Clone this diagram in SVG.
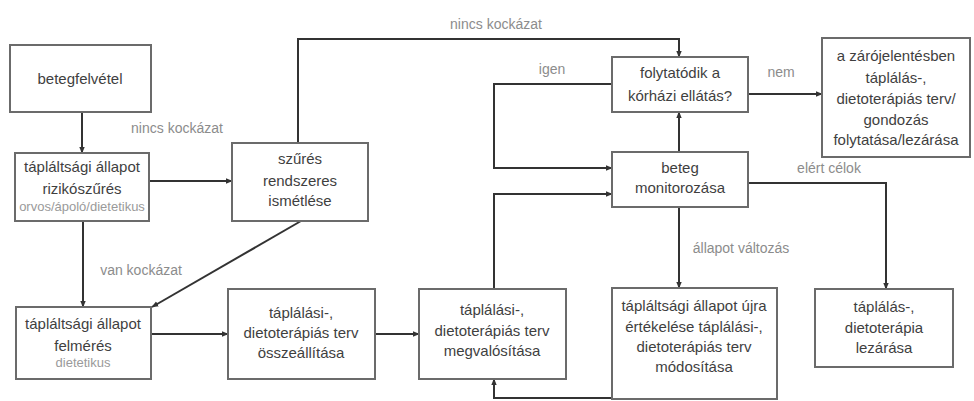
<svg xmlns="http://www.w3.org/2000/svg" width="974" height="401" viewBox="0 0 974 401">
  <style>
    .box { fill: #ffffff; stroke: #6b6b6b; stroke-width: 2; }
    .t { font-family: "Liberation Sans", Arial, sans-serif; font-size: 15px; fill: #3f3f3f; text-anchor: middle; }
    .sub { font-family: "Liberation Sans", Arial, sans-serif; font-size: 13px; fill: #9a9a9a; text-anchor: middle; }
    .lbl { font-family: "Liberation Sans", Arial, sans-serif; font-size: 14px; fill: #8c8c8c; text-anchor: middle; }
    .edge { fill: none; stroke: #333333; stroke-width: 2; marker-end: url(#arrow); }
  </style>
  <defs>
    <marker id="arrow" viewBox="0 0 10 10" refX="9" refY="5" markerWidth="7" markerHeight="7" markerUnits="userSpaceOnUse" orient="auto">
      <path d="M0,1 L10,5 L0,9 Z" fill="#333333"/>
    </marker>
  </defs>
  <rect width="974" height="401" fill="#ffffff"/>

  <g id="connectors">
    <path class="edge" d="M82,112 V153"/>
    <path class="edge" d="M149,181 H232"/>
    <path class="edge" d="M83,221 V307"/>
    <path class="edge" d="M301,221 L152,307"/>
    <path class="edge" d="M151,334 H228"/>
    <path class="edge" d="M375,334 H419"/>
    <path class="edge" d="M298,143 V39 H679 V57"/>
    <path class="edge" d="M748,94 H822"/>
    <path class="edge" d="M679,152 V112"/>
    <path class="edge" d="M612,84 H494 V168 H612"/>
    <path class="edge" d="M494,289 V194 H612"/>
    <path class="edge" d="M748,183 H886 V289"/>
    <path class="edge" d="M679,207 V288"/>
    <path class="edge" d="M612,398 H494 V379"/>
  </g>

  <g id="labels">
    <text class="lbl" x="177" y="133">nincs kockázat</text>
    <text class="lbl" x="496" y="29">nincs kockázat</text>
    <text class="lbl" x="552" y="74">igen</text>
    <text class="lbl" x="781" y="77">nem</text>
    <text class="lbl" x="141" y="275">van kockázat</text>
    <text class="lbl" x="829" y="173">elért célok</text>
    <text class="lbl" x="741" y="253">állapot változás</text>
  </g>

  <g id="betegfelvetel">
    <rect class="box" x="10" y="45" width="141" height="67"/>
    <text class="t" x="80" y="84">betegfelvétel</text>
  </g>

  <g id="rizikoszures">
    <rect class="box" x="15" y="153" width="134" height="68"/>
    <text class="t" x="82" y="172">tápláltsági állapot</text>
    <text class="t" x="82" y="194">rizikószűrés</text>
    <text class="sub" x="82" y="211">orvos/ápoló/dietetikus</text>
  </g>

  <g id="szures">
    <rect class="box" x="232" y="143" width="136" height="78"/>
    <text class="t" x="300" y="164">szűrés</text>
    <text class="t" x="300" y="186">rendszeres</text>
    <text class="t" x="300" y="206">ismétlése</text>
  </g>

  <g id="felmeres">
    <rect class="box" x="16" y="307" width="135" height="72"/>
    <text class="t" x="83" y="329">tápláltsági állapot</text>
    <text class="t" x="83" y="351">felmérés</text>
    <text class="sub" x="83" y="367">dietetikus</text>
  </g>

  <g id="osszeallitas">
    <rect class="box" x="228" y="289" width="147" height="90"/>
    <text class="t" x="301" y="318">táplálási-,</text>
    <text class="t" x="301" y="338">dietoterápiás terv</text>
    <text class="t" x="301" y="358">összeállítása</text>
  </g>

  <g id="megvalositas">
    <rect class="box" x="419" y="289" width="147" height="90"/>
    <text class="t" x="492" y="315">táplálási-,</text>
    <text class="t" x="492" y="336">dietoterápiás terv</text>
    <text class="t" x="492" y="356">megvalósítása</text>
  </g>

  <g id="folytatodik">
    <rect class="box" x="612" y="57" width="136" height="55"/>
    <text class="t" x="680" y="78">folytatódik a</text>
    <text class="t" x="680" y="101">kórházi ellátás?</text>
  </g>

  <g id="zarojelentes">
    <rect class="box" x="822" y="38" width="148" height="119"/>
    <text class="t" x="896" y="61">a zárójelentésben</text>
    <text class="t" x="896" y="83">táplálás-,</text>
    <text class="t" x="896" y="104">dietoterápiás terv/</text>
    <text class="t" x="896" y="125">gondozás</text>
    <text class="t" x="896" y="145">folytatása/lezárása</text>
  </g>

  <g id="monitorozas">
    <rect class="box" x="612" y="152" width="136" height="55"/>
    <text class="t" x="680" y="173">beteg</text>
    <text class="t" x="680" y="193">monitorozása</text>
  </g>

  <g id="ujraertekeles">
    <rect class="box" x="612" y="288" width="165" height="111"/>
    <text class="t" x="694" y="311">tápláltsági állapot újra</text>
    <text class="t" x="694" y="332">értékelése  táplálási-,</text>
    <text class="t" x="694" y="352">dietoterápiás terv</text>
    <text class="t" x="694" y="372">módosítása</text>
  </g>

  <g id="lezaras">
    <rect class="box" x="815" y="289" width="138" height="78"/>
    <text class="t" x="884" y="312">táplálás-,</text>
    <text class="t" x="884" y="333">dietoterápia</text>
    <text class="t" x="884" y="353">lezárása</text>
  </g>
</svg>
